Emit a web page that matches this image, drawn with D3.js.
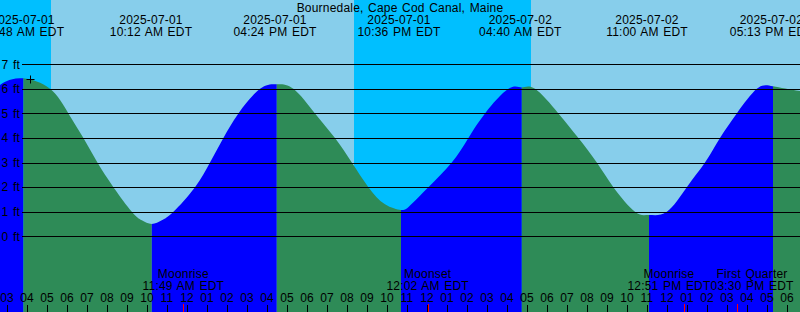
<!DOCTYPE html>
<html>
<head>
<meta charset="utf-8">
<script src="https://cdn.jsdelivr.net/npm/d3@7"></script>
<style>
  html, body { margin: 0; padding: 0; background: #fff; }
  svg { display: block; }
  text {
    font-family: "Liberation Sans", Arial, sans-serif;
    font-size: 12px;
    letter-spacing: 0.2px;
    word-spacing: 1px;
    fill: #000;
  }
</style>
</head>
<body>
<svg id="chart" width="800" height="312"></svg>
<script>
// ----------

const WIDTH = 800;
const HEIGHT = 312;
const TITLE = "Bournedale, Cape Cod Canal, Maine";

const DAY_SKY = "#87ceeb";
const NIGHT_SKY = "#00bfff";
const RISING = "#0000ff";
const FALLING = "#2e8b57";
const MOON_TICK = "#ff0000";

// all times are hours since 2025-07-01 00:00 EDT
const START_HOUR = 2.65;
const END_HOUR = 42.65;

// tide level, in feet
const tideHours = [2.65, 3.0, 3.82, 5.15, 6.07, 6.82, 7.52, 8.32, 9.24, 9.74, 10.24, 10.74, 11.32,
  12.4, 13.15, 13.82, 14.57, 15.65, 16.49, 17.32, 18.4, 19.4, 20.24, 21.07, 21.9, 22.7, 23.15,
  24.07, 25.24, 26.07, 26.9, 28.07, 28.74, 29.4, 30.57, 31.57, 32.49, 33.32, 34.4, 35.1, 35.99,
  36.99, 37.9, 38.65, 39.49, 40.49, 41.3, 42.65];
const tideLevels = [6.16, 6.32, 6.43, 6.0, 5.0, 4.0, 3.0, 2.0, 1.0, 0.65, 0.5, 0.65, 1.0,
  2.0, 3.0, 4.0, 5.0, 6.0, 6.19, 6.0, 5.0, 4.0, 3.0, 2.0, 1.3, 1.07, 1.25,
  2.0, 3.0, 4.0, 5.0, 6.0, 6.06, 6.0, 5.0, 4.0, 3.0, 2.0, 1.0, 0.87, 1.0,
  2.0, 3.0, 4.0, 5.0, 6.0, 6.11, 5.91];

// high and low tide labels along the top
const extremeDates = ["2025-07-01", "2025-07-01", "2025-07-01", "2025-07-01", "2025-07-02", "2025-07-02", "2025-07-02"];
const extremeTimes = ["03:48 AM EDT", "10:12 AM EDT", "04:24 PM EDT", "10:36 PM EDT", "04:40 AM EDT", "11:00 AM EDT", "05:13 PM EDT"];
const extremeHours = [3.8, 10.2, 16.4, 22.6, 28.667, 35.0, 41.217];

// sunrise, sunset, sunrise
const sunHours = [5.2, 20.35, 29.2];

const moonNames = ["Moonrise", "Moonset", "Moonrise", "First Quarter"];
const moonTimes = ["11:49 AM EDT", "12:02 AM EDT", "12:51 PM EDT", "03:30 PM EDT"];
const moonHours = [11.817, 24.033, 36.85, 39.5];

const levelTicks = [0, 1, 2, 3, 4, 5, 6, 7];

// the little cross near the first high
const markHour = 4.15;
const markLevel = 6.4;

// ----------

const svg = d3.select("#chart");

const x = d3.scaleLinear().domain([START_HOUR, END_HOUR]).range([0, WIDTH]);
const y = d3.scaleLinear().domain([0, 7]).range([236.3, 64.3]);

function crisp(v) {
  return Math.round(v) + 0.5;
}

function hourLabel(h) {
  let hr = h % 12;
  if (hr === 0) hr = 12;
  return String(hr).padStart(2, "0");
}

// push neighbouring labels apart until they just touch
function spreadLabels(centers, widths) {
  let pos = centers.slice();
  for (let pass = 0; pass < 10; pass++) {
    for (let i = 1; i < pos.length; i++) {
      let need = (widths[i - 1] + widths[i]) / 2;
      let overlap = need - (pos[i] - pos[i - 1]);
      if (overlap > 0) {
        pos[i - 1] -= overlap / 2;
        pos[i] += overlap / 2;
      }
    }
  }
  return pos;
}

// sky: night first, then alternate at each sun event
let bounds = [START_HOUR].concat(sunHours, [END_HOUR]);
svg.append("g")
  .selectAll("rect")
  .data(d3.pairs(bounds))
  .enter()
  .append("rect")
  .attr("x", d => x(d[0]))
  .attr("y", 0)
  .attr("width", d => x(d[1]) - x(d[0]))
  .attr("height", HEIGHT)
  .style("fill", (d, i) => (i % 2 === 0 ? NIGHT_SKY : DAY_SKY));

// tide area, coloured by rising / falling between the turning points
let tide = tideHours.map((h, i) => ({ h: h, level: tideLevels[i] }));

let area = d3.area()
  .x(d => x(d.h))
  .y0(HEIGHT)
  .y1(d => y(d.level))
  .curve(d3.curveNatural);

svg.append("defs")
  .append("clipPath")
  .attr("id", "tide-clip")
  .append("path")
  .attr("d", area(tide));

let turns = [START_HOUR];
for (let i = 1; i < tide.length - 1; i++) {
  let a = tide[i - 1].level, b = tide[i].level, c = tide[i + 1].level;
  if ((b > a && b > c) || (b < a && b < c)) turns.push(tide[i].h);
}
turns.push(END_HOUR);

let levelAt = d3.scaleLinear().domain(tideHours).range(tideLevels);

svg.append("g")
  .attr("clip-path", "url(#tide-clip)")
  .selectAll("rect")
  .data(d3.pairs(turns))
  .enter()
  .append("rect")
  .attr("x", d => x(d[0]))
  .attr("y", 0)
  .attr("width", d => x(d[1]) - x(d[0]))
  .attr("height", HEIGHT)
  .style("fill", d => (levelAt(d[1]) > levelAt(d[0]) ? RISING : FALLING));

// level grid
let grid = svg.append("g");
grid.selectAll("line")
  .data(levelTicks)
  .enter()
  .append("line")
  .attr("x1", 22)
  .attr("x2", WIDTH)
  .attr("y1", d => crisp(y(d)))
  .attr("y2", d => crisp(y(d)))
  .style("stroke", "#000")
  .style("stroke-width", 1);

grid.selectAll("text")
  .data(levelTicks)
  .enter()
  .append("text")
  .attr("x", 20)
  .attr("y", d => y(d))
  .attr("dy", "0.35em")
  .attr("text-anchor", "end")
  .text(d => d + " ft");

// cross mark
let mx = Math.round(x(markHour)) + 0.5;
let my = Math.round(y(markLevel)) + 0.5;
svg.append("path")
  .attr("d", `M${mx - 4},${my}H${mx + 4}M${mx},${my - 4}V${my + 4}`)
  .style("stroke", "#000")
  .style("stroke-width", 1)
  .style("fill", "none");

// title and tide labels
svg.append("text")
  .attr("x", WIDTH / 2)
  .attr("y", 12)
  .attr("text-anchor", "middle")
  .text(TITLE);

let tideLabels = svg.append("g")
  .selectAll("g")
  .data(extremeHours)
  .enter()
  .append("g")
  .attr("transform", d => "translate(" + x(d) + ",0)");

tideLabels.append("text")
  .attr("y", 24)
  .attr("text-anchor", "middle")
  .text((d, i) => extremeDates[i]);

tideLabels.append("text")
  .attr("y", 36)
  .attr("text-anchor", "middle")
  .text((d, i) => extremeTimes[i]);

// hour axis along the bottom
let hours = d3.range(Math.ceil(START_HOUR), END_HOUR);
let axis = svg.append("g");

axis.selectAll("line")
  .data(hours)
  .enter()
  .append("line")
  .attr("x1", d => crisp(x(d)))
  .attr("x2", d => crisp(x(d)))
  .attr("y1", 305)
  .attr("y2", HEIGHT)
  .style("stroke", "#000")
  .style("stroke-width", 1);

axis.selectAll("text")
  .data(hours)
  .enter()
  .append("text")
  .attr("x", d => x(d))
  .attr("y", 301.5)
  .attr("text-anchor", "middle")
  .text(hourLabel);

// moon events: red tick at the event, text pushed apart when crowded
let moonTicks = svg.append("g");
moonTicks.selectAll("line")
  .data(moonHours)
  .enter()
  .append("line")
  .attr("x1", d => crisp(x(d)))
  .attr("x2", d => crisp(x(d)))
  .attr("y1", 304)
  .attr("y2", HEIGHT)
  .style("stroke", MOON_TICK)
  .style("stroke-width", 1);

let moon = svg.append("g")
  .selectAll("g")
  .data(moonHours)
  .enter()
  .append("g");

moon.append("text")
  .attr("y", 278)
  .attr("text-anchor", "middle")
  .text((d, i) => moonNames[i]);

moon.append("text")
  .attr("y", 290)
  .attr("text-anchor", "middle")
  .text((d, i) => moonTimes[i]);

let moonWidths = [];
moon.each(function () {
  let w = 0;
  d3.select(this).selectAll("text").each(function () {
    w = Math.max(w, this.getComputedTextLength());
  });
  moonWidths.push(w);
});
let moonX = spreadLabels(moonHours.map(x), moonWidths);
moon.attr("transform", (d, i) => "translate(" + moonX[i] + ",0)");
</script>
</body>
</html>
